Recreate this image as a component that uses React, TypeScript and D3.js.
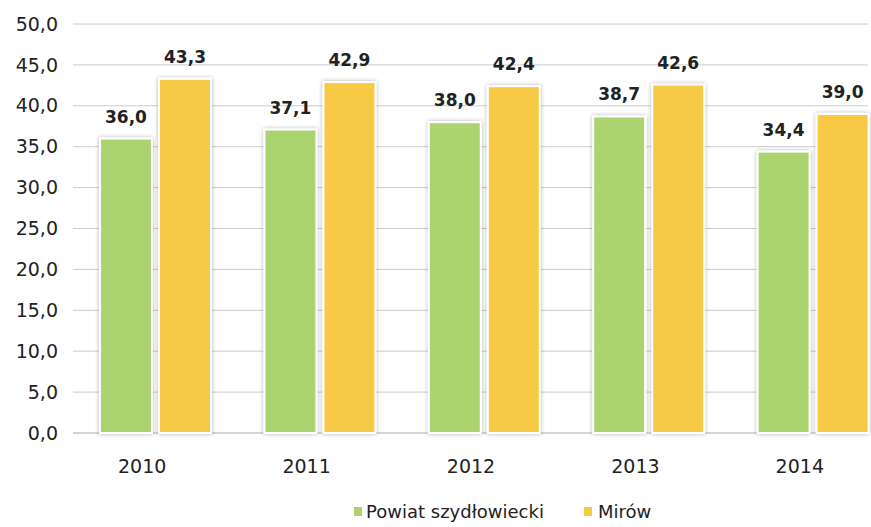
import React from 'react';
import * as d3 from 'd3';

const years = ['2010', '2011', '2012', '2013', '2014'];
const powiat = [36.0, 37.1, 38.0, 38.7, 34.4];
const mirow = [43.3, 42.9, 42.4, 42.6, 39.0];
const yTicks = [0, 5, 10, 15, 20, 25, 30, 35, 40, 45, 50];
const seriesNames = ['Powiat szydłowiecki', 'Mirów'];
const colors = ['#abd470', '#f8c945'];

const W = 871;
const H = 527;
const fmt = (v: number) => v.toFixed(1).replace('.', ',');
const font = "'DejaVu Sans', sans-serif";

const App: React.FC = () => {
  const y = d3.scaleLinear().domain([0, 50]).range([433, 24]);
  const x = d3.scaleBand().domain(years).range([60, 882]).paddingInner(0).paddingOuter(0);
  const inner = d3.scaleBand().domain(['0', '1']).range([40, 151]).paddingInner(0.12);
  const series = [powiat, mirow];

  return (
    <svg width={W} height={H} style={{ position: 'absolute', left: 0, top: 0, background: '#fff' }}>
      <defs>
        <filter id="glow" x="-20%" y="-20%" width="140%" height="140%">
          <feGaussianBlur in="SourceAlpha" stdDeviation="2" />
          <feComponentTransfer><feFuncA type="linear" slope="0.3" /></feComponentTransfer>
          <feMerge><feMergeNode /><feMergeNode in="SourceGraphic" /></feMerge>
        </filter>
      </defs>
      {yTicks.map(t => (
        <g key={t}>
          <line x1={73} x2={868} y1={y(t)} y2={y(t)} stroke={t === 0 ? '#aaa' : '#ccc'} strokeWidth={1} />
          <text x={58} y={y(t)} dy="0.35em" textAnchor="end" fontFamily={font} fontSize={19} fill="#222">
            {fmt(t)}
          </text>
        </g>
      ))}
      {years.map((yr, i) => (
        <g key={yr} transform={`translate(${x(yr)},0)`}>
          {series.map((s, j) => {
            const bx = inner(String(j))!;
            const bw = inner.bandwidth();
            return (
              <g key={j}>
                <rect x={bx} y={y(s[i])} width={bw} height={y(0) - y(s[i])} fill={colors[j]}
                  stroke="#fff" strokeWidth={2} filter="url(#glow)" />
                <text x={bx + bw / 2} y={y(s[i]) - 16} textAnchor="middle" fontFamily={font}
                  fontWeight="bold" fontSize={17} fill="#222">
                  {fmt(s[i])}
                </text>
              </g>
            );
          })}
          <text x={x.bandwidth() / 2} y={466} dy="0.35em" textAnchor="middle" fontFamily={font} fontSize={19} fill="#222">
            {yr}
          </text>
        </g>
      ))}
      <g>
        <rect x={354} y={507} width={8} height={9} fill={colors[0]} />
        <text x={366} y={512} dy="0.35em" fontFamily={font} fontSize={18} fill="#222">{seriesNames[0]}</text>
        <rect x={584} y={507} width={8} height={9} fill={colors[1]} />
        <text x={598} y={512} dy="0.35em" fontFamily={font} fontSize={18} fill="#222">{seriesNames[1]}</text>
      </g>
    </svg>
  );
};

export default App;
